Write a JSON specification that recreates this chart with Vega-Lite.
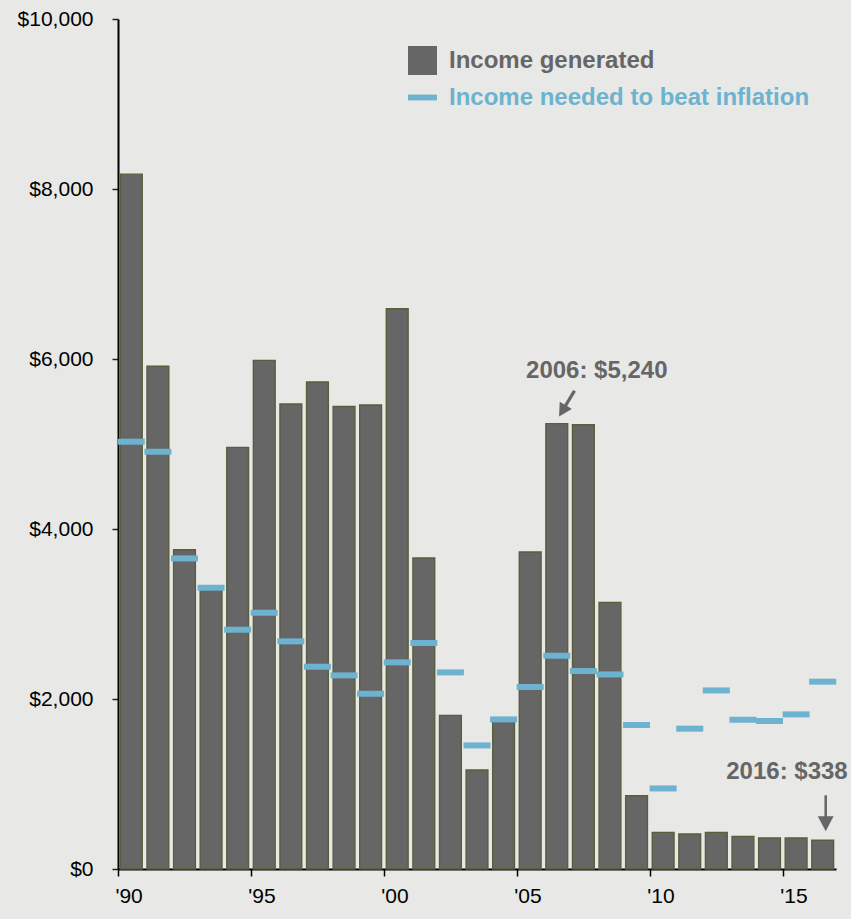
{
  "$schema": "https://vega.github.io/schema/vega-lite/v6.json",
  "width": 718,
  "height": 850,
  "autosize": {"type": "none"},
  "padding": {"left": 118, "top": 19, "right": 15, "bottom": 50},
  "background": "#e8e8e6",
  "config": {
    "view": {"stroke": null},
    "font": "Liberation Sans",
    "legend": {
      "title": null,
      "orient": "none",
      "symbolSize": 841,
      "symbolStrokeWidth": 0,
      "symbolOpacity": 1,
      "labelFontSize": 24,
      "labelFontWeight": "bold",
      "labelOffset": 12,
      "labelLimit": 500
    }
  },
  "datasets": {
    "income": [
      {"year": 1990, "generated": 8175, "needed": 5027},
      {"year": 1991, "generated": 5915, "needed": 4909},
      {"year": 1992, "generated": 3756, "needed": 3654},
      {"year": 1993, "generated": 3290, "needed": 3309},
      {"year": 1994, "generated": 4960, "needed": 2815},
      {"year": 1995, "generated": 5984, "needed": 3015},
      {"year": 1996, "generated": 5470, "needed": 2678},
      {"year": 1997, "generated": 5729, "needed": 2380},
      {"year": 1998, "generated": 5442, "needed": 2278},
      {"year": 1999, "generated": 5459, "needed": 2062},
      {"year": 2000, "generated": 6592, "needed": 2431},
      {"year": 2001, "generated": 3659, "needed": 2659},
      {"year": 2002, "generated": 1807, "needed": 2313},
      {"year": 2003, "generated": 1165, "needed": 1454},
      {"year": 2004, "generated": 1740, "needed": 1760},
      {"year": 2005, "generated": 3729, "needed": 2141},
      {"year": 2006, "generated": 5240, "needed": 2509},
      {"year": 2007, "generated": 5227, "needed": 2329},
      {"year": 2008, "generated": 3137, "needed": 2289},
      {"year": 2009, "generated": 862, "needed": 1694},
      {"year": 2010, "generated": 431, "needed": 948},
      {"year": 2011, "generated": 412, "needed": 1651},
      {"year": 2012, "generated": 431, "needed": 2101},
      {"year": 2013, "generated": 384, "needed": 1756},
      {"year": 2014, "generated": 365, "needed": 1741},
      {"year": 2015, "generated": 365, "needed": 1819},
      {"year": 2016, "generated": 338, "needed": 2204}
    ],
    "notes": [
      {"year": 2006, "value": 5240, "label": "2006: $5,240"},
      {"year": 2016, "value": 338, "label": "2016: $338"}
    ]
  },
  "encoding": {
    "x": {
      "field": "year",
      "type": "ordinal",
      "scale": {"paddingInner": 0.18, "paddingOuter": 0.09},
      "axis": {
        "title": null,
        "values": [1990, 1995, 2000, 2005, 2010, 2015],
        "labelExpr": "\"'\" + substring(toString(datum.value), 2)",
        "labelAngle": 0,
        "bandPosition": 0,
        "tickOffset": -2.4,
        "labelOffset": -14,
        "labelAlign": "left",
        "labelFontSize": 21,
        "labelColor": "#000000",
        "labelPadding": 9,
        "tickSize": 7,
        "tickColor": "#000000",
        "tickWidth": 1.5,
        "domainColor": "#000000",
        "domainWidth": 2
      }
    }
  },
  "layer": [
    {
      "data": {"name": "income"},
      "mark": {"type": "bar", "stroke": "#5a5e3a", "strokeWidth": 1.4},
      "encoding": {
        "y": {
          "field": "generated",
          "type": "quantitative",
          "scale": {"domain": [0, 10000], "nice": false},
          "axis": {
            "title": null,
            "values": [0, 2000, 4000, 6000, 8000, 10000],
            "format": "$,.0f",
            "grid": false,
            "labelFontSize": 21,
            "labelColor": "#000000",
            "labelPadding": 19,
            "tickSize": 6,
            "tickColor": "#222222",
            "tickWidth": 1.5,
            "domainColor": "#000000",
            "domainWidth": 2
          }
        },
        "color": {
          "datum": "Income generated",
          "type": "nominal",
          "scale": {"range": ["#666666"]},
          "legend": {
            "legendX": 290,
            "legendY": 27,
            "symbolType": "square",
            "labelColor": "#666666"
          }
        }
      }
    },
    {
      "data": {"name": "income"},
      "mark": {"type": "tick", "size": 27, "thickness": 6, "opacity": 1, "filled": true},
      "encoding": {
        "y": {"field": "needed", "type": "quantitative"},
        "fill": {
          "datum": "Income needed to beat inflation",
          "type": "nominal",
          "scale": {"range": ["#6db3cf"]},
          "legend": {
            "legendX": 290,
            "legendY": 64,
            "symbolType": "M-1,-0.2L1,-0.2L1,0.2L-1,0.2Z",
            "labelColor": "#6db3cf"
          }
        }
      }
    },
    {
      "data": {"name": "notes"},
      "transform": [{"filter": "datum.year === 2006"}],
      "mark": {"type": "text", "fontSize": 24, "fontWeight": "bold", "color": "#666666", "align": "center", "baseline": "alphabetic", "dx": 40, "dy": -46},
      "encoding": {
        "y": {"field": "value", "type": "quantitative"},
        "text": {"field": "label"}
      }
    },
    {
      "data": {"name": "notes"},
      "transform": [{"filter": "datum.year === 2016"}],
      "mark": {"type": "text", "fontSize": 24, "fontWeight": "bold", "color": "#666666", "align": "right", "baseline": "alphabetic", "dx": 25, "dy": -61},
      "encoding": {
        "y": {"field": "value", "type": "quantitative"},
        "text": {"field": "label"}
      }
    },
    {
      "data": {"name": "notes"},
      "transform": [{"filter": "datum.year === 2006"}],
      "mark": {"type": "point", "filled": true, "opacity": 1, "color": "#666666", "strokeWidth": 0, "shape": "M-0.11,-1L0.11,-1L0.11,0.13L0.47,0.13L0,1L-0.47,0.13L-0.11,0.13Z", "size": 900, "angle": 31, "xOffset": 10, "yOffset": -20},
      "encoding": {
        "y": {"field": "value", "type": "quantitative"}
      }
    },
    {
      "data": {"name": "notes"},
      "transform": [{"filter": "datum.year === 2016"}],
      "mark": {"type": "point", "filled": true, "opacity": 1, "color": "#666666", "strokeWidth": 0, "shape": "M-0.07,-1L0.07,-1L0.07,0.17L0.44,0.17L0,1L-0.44,0.17L-0.07,0.17Z", "size": 1296, "angle": 0, "xOffset": 3, "yOffset": -27},
      "encoding": {
        "y": {"field": "value", "type": "quantitative"}
      }
    }
  ]
}
